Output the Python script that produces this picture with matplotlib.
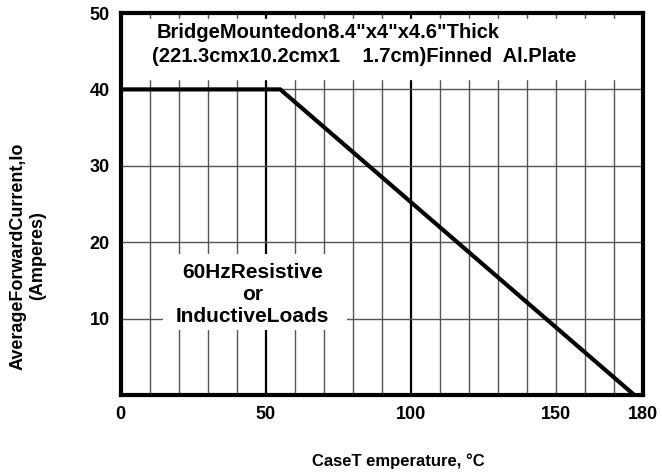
#!/usr/bin/env python3
"""Derating curve: average forward current vs case temperature."""

import matplotlib
matplotlib.use("Agg")
import matplotlib.pyplot as plt
from matplotlib.patches import Rectangle

# curve
temp_c = [0, 55, 177]
current_a = [40, 40, 0]

xticks = [0, 50, 100, 150, 180]
yticks = [10, 20, 30, 40, 50]
xgrid = list(range(10, 180, 10))
ygrid = [10, 20, 30, 40]

title_lines = ['BridgeMountedon8.4"x4"x4.6"Thick',
               '(221.3cmx10.2cmx1    1.7cm)Finned  Al.Plate']
load_text = "60HzResistive\nor\nInductiveLoads"


def main():
    plt.rcParams["font.family"] = ["Liberation Sans", "DejaVu Sans"]
    plt.rcParams["font.weight"] = "bold"

    fig = plt.figure(figsize=(6.62, 4.73), dpi=100)
    ax = fig.add_axes([0.1823, 0.1649, 0.789, 0.8076])
    ax.set_xlim(0, 180)
    ax.set_ylim(0, 50)

    for x in xgrid:
        if x in (50, 100):
            ax.axvline(x, color="black", lw=1.6, zorder=1)
        else:
            ax.axvline(x, color="#555555", lw=1.0, zorder=1)
    for y in ygrid:
        ax.axhline(y, color="#555555", lw=1.0, zorder=1)

    # white panels behind the texts, leaving only stubs of the grid
    ax.axhspan(41.4, 49.2, color="white", zorder=2)
    ax.add_patch(Rectangle((14.6, 8.5), 63.3, 10.0, facecolor="white",
                           edgecolor="none", zorder=2))

    ax.plot(temp_c, current_a, color="black", lw=3, zorder=4,
            solid_joinstyle="miter")

    ax.text(12.5, 47.4, title_lines[0], fontsize=14.5, fontweight="bold",
            ha="left", va="center", zorder=5)
    ax.text(10.8, 44.3, title_lines[1], fontsize=14.5, fontweight="bold",
            ha="left", va="center", zorder=5)

    ax.text(45.5, 13.2, load_text, fontsize=15, fontweight="bold",
            ha="center", va="center", linespacing=1.2, zorder=5)

    ax.set_xticks(xticks)
    ax.set_yticks(yticks)
    ax.tick_params(length=0, labelsize=13, pad=8)
    for lab in ax.get_xticklabels() + ax.get_yticklabels():
        lab.set_fontweight("bold")

    for s in ax.spines.values():
        s.set_linewidth(3)
        s.set_zorder(6)

    fig.text(28 / 662, 1 - 256 / 473,
             "AverageForwardCurrent,Io\n(Amperes)", rotation=90,
             fontsize=13, fontweight="bold", ha="center", va="center")
    fig.text(398 / 662, 1 - 461 / 473, "CaseT emperature, \u00b0C",
             fontsize=12, fontweight="bold", ha="center", va="center")

    fig.savefig("out.png", dpi=100)


if __name__ == "__main__":
    main()
